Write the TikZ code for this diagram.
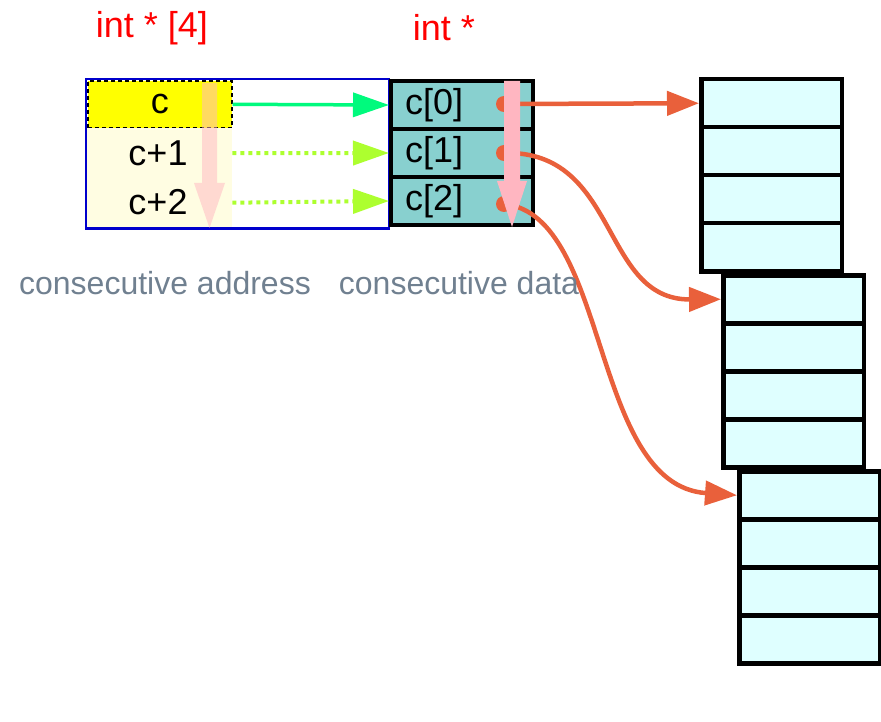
\documentclass[tikz,border=0pt]{standalone}
\usepackage{fontspec}
\setmainfont{Liberation Sans}
\usetikzlibrary{arrows.meta}
\definecolor{tealc}{HTML}{88D0CF}
\definecolor{lcyan}{HTML}{DFFFFF}
\definecolor{lyellow}{HTML}{FFFDE2}
\definecolor{pinka}{HTML}{FFB6C1}
\definecolor{orng}{HTML}{E9603B}
\definecolor{sgreen}{HTML}{00FA7D}
\definecolor{gyellow}{HTML}{ADFF2F}
\definecolor{slate}{HTML}{708090}
\definecolor{bluea}{HTML}{0000CC}
\definecolor{yelw}{RGB}{255,255,0}
\tikzset{
  bigtext/.style={font=\fontsize{36}{40}\selectfont},
  memcell/.style={draw=black, line width=4.5pt, fill=lcyan, minimum width=140.5pt, minimum height=48pt, inner sep=0pt, anchor=north west},
  tcell/.style={draw=black, line width=4pt, fill=tealc, minimum height=48pt, text width=114pt, inner xsep=14pt, inner ysep=0pt, align=left, anchor=north west, bigtext},
  ptr/.style={orng, line width=4.5pt, -{Triangle[length=32pt,width=24pt]}},
  gray/.style={text=slate, font=\fontsize{32}{36}\selectfont},
  title/.style={text=red, bigtext}
}
\begin{document}
\begin{tikzpicture}[x=1pt,y=-1pt]
\useasboundingbox (0,0) rectangle (881,722);
% titles
\node[title] (t1) at (152,28) {int * [4]};
\node[title] (t2) at (444,28) {int *};
% blue array box
\draw[bluea, line width=2.2pt] (86,79) rectangle (389,228.5);
\node[fill=yelw, draw=black, dash pattern=on 4pt off 3pt, line width=1.6pt, minimum width=144pt, minimum height=47pt, inner sep=0pt, anchor=north west, bigtext] (ca) at (87,80) {c};
\node[fill=lyellow, minimum width=145pt, minimum height=50pt, inner sep=0pt, anchor=north west] (cb) at (87,128) {};
\node[fill=lyellow, minimum width=145pt, minimum height=49pt, inner sep=0pt, anchor=north west] (cc) at (87,178) {};
\node[bigtext] (lb) at (158,153) {c+1};
\node[bigtext] (lc) at (158,202) {c+2};
% pale arrow
\fill[pinka, opacity=0.5] (202,83) -- (217,83) -- (217,183) -- (225,183) -- (209.5,228) -- (194,183) -- (202,183) -- cycle;
% teal cells
\node[tcell] (c0) at (389,79) {c[0]};
\node[tcell] (c1) at (389,127) {c[1]};
\node[tcell] (c2) at (389,175) {c[2]};
% memory stacks
\foreach \i in {0,...,3} {
  \node[memcell] (sa\i) at (699,{77+48*\i}) {};
}
\foreach \i in {0,...,3} {
  \node[memcell] (sb\i) at (721,{273+48*\i}) {};
}
\foreach \i in {0,...,3} {
  \node[memcell] (sc\i) at (737,{469+48*\i}) {};
}
% address arrows
\draw[sgreen, line width=3.5pt, -{Triangle[length=36pt,width=24pt]}] (ca.east) -- (c0.west);
\draw[gyellow, line width=4pt, dash pattern=on 4pt off 4pt, -{Triangle[length=36pt,width=24pt,fill=gyellow]}] (cb.east) -- (c1.west);
\draw[gyellow, line width=4pt, dash pattern=on 4pt off 4pt, -{Triangle[length=36pt,width=24pt,fill=gyellow]}] (cc.east) -- (c2.west);
% pointers
\coordinate (d0) at (504,104);
\coordinate (d1) at (504,153);
\coordinate (d2) at (504,204);
\fill[orng] (d0) circle (8);
\fill[orng] (d1) circle (8);
\fill[orng] (d2) circle (8);
\draw[ptr] (d0) -- (sa0.west);
\draw[ptr] (d1) .. controls (620,150) and (600,300) .. (sb0.west);
\draw[ptr] (d2) .. controls (610,215) and (590,485) .. (sc0.west);
% pink arrow on data
\fill[pinka] (504,81) -- (520,81) -- (520,181) -- (527,181) -- (512,227) -- (497,181) -- (504,181) -- cycle;
% captions
\node[gray] (g1) at (165,283) {consecutive address};
\node[gray] (g2) at (459,283) {consecutive data};
\end{tikzpicture}
\end{document}
